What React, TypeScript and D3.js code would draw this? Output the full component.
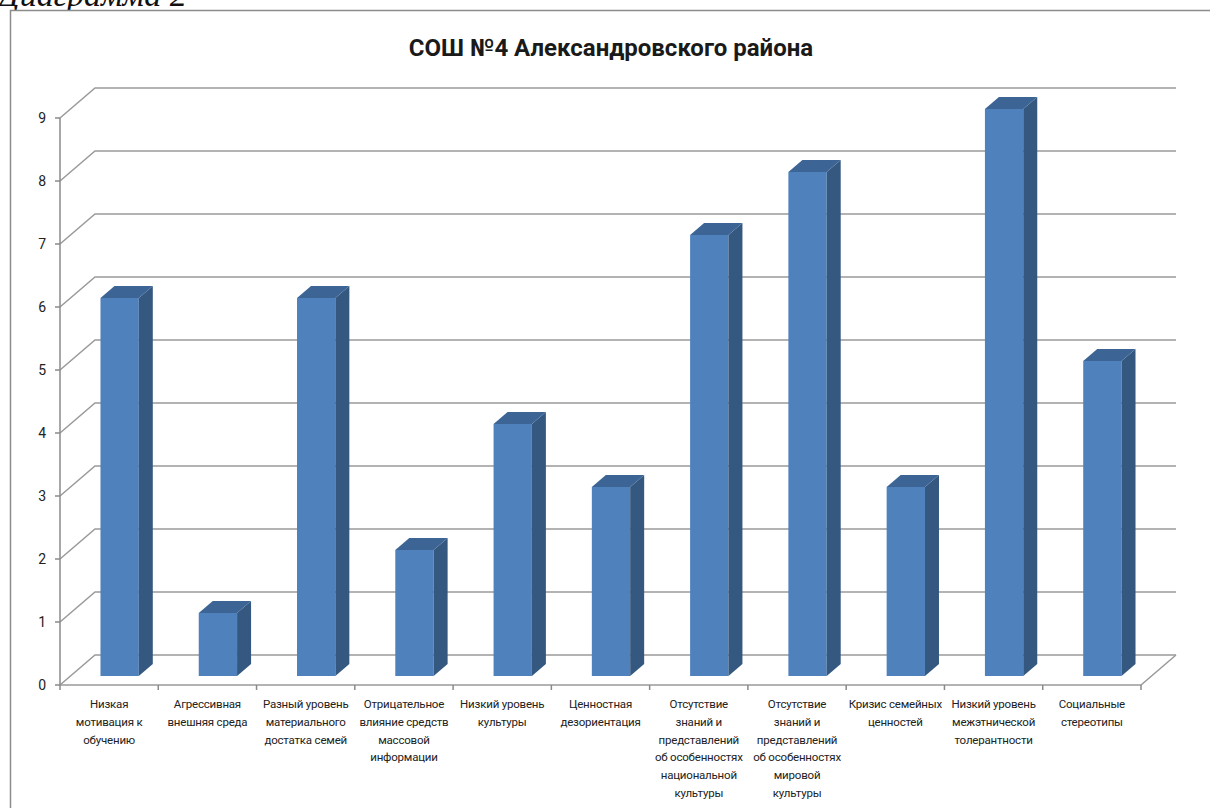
import { useEffect, useRef } from 'react';
import * as d3 from 'd3';

const categories = [
    ['Низкая', 'мотивация к', 'обучению'],
    ['Агрессивная', 'внешняя среда'],
    ['Разный уровень', 'материального', 'достатка семей'],
    ['Отрицательное', 'влияние средств', 'массовой', 'информации'],
    ['Низкий уровень', 'культуры'],
    ['Ценностная', 'дезориентация'],
    ['Отсутствие', 'знаний и', 'представлений', 'об особенностях', 'национальной', 'культуры'],
    ['Отсутствие', 'знаний и', 'представлений', 'об особенностях', 'мировой', 'культуры'],
    ['Кризис семейных', 'ценностей'],
    ['Низкий уровень', 'межэтнической', 'толерантности'],
    ['Социальные', 'стереотипы'],
];
const values = [6, 1, 6, 2, 4, 3, 7, 8, 3, 9, 5];
const yTicks = [0, 1, 2, 3, 4, 5, 6, 7, 8, 9];
const title = 'СОШ №4 Александровского района';
const caption = 'Диаграмма 2';

const W = 1210;
const H = 808;
const FONT = 'Roboto, "Noto Sans", sans-serif';

export default function App() {
    const svgRef = useRef<SVGSVGElement>(null);

    useEffect(() => {
        if (!svgRef.current) return;
        const svg = d3.select(svgRef.current);
        svg.selectAll('*').remove();

        // front plane of the 3D box
        const left = 60, right = 1141, bottom = 685, top = 118;
        const depth = { dx: 35, dy: -30 };
        const keys = categories.map((_, i) => String(i));

        const x = d3.scaleBand().domain(keys).range([left, right]).paddingInner(0.61).paddingOuter(0.305);
        const step = x.step();
        const y = d3.scaleLinear().domain([0, 9]).range([bottom, top]);

        // caption above the frame (cut by page top, as in the scan)
        svg.append('text')
            .attr('x', -2).attr('y', 6)
            .style('font-family', '"Liberation Serif", "DejaVu Serif", serif')
            .style('font-style', 'italic')
            .style('font-size', '34px')
            .attr('fill', '#111')
            .text(caption);

        // chart frame
        svg.append('rect')
            .attr('x', 10.5).attr('y', 10.5)
            .attr('width', W + 20).attr('height', H + 20)
            .attr('fill', '#fff')
            .attr('stroke', '#8c8c8c')
            .attr('stroke-width', 1.5);

        svg.append('text')
            .attr('x', 611).attr('y', 56)
            .attr('text-anchor', 'middle')
            .style('font-family', FONT)
            .style('font-weight', 'bold')
            .style('font-size', '24px')
            .attr('fill', '#1a1a1a')
            .text(title);

        const grid = svg.append('g').attr('stroke', '#9a9a9a').attr('stroke-width', 1.5).attr('fill', 'none');

        // side wall diagonals + back wall gridlines
        yTicks.forEach(v => {
            const yy = y(v);
            grid.append('path')
                .attr('d', `M${left},${yy}L${left + depth.dx},${yy + depth.dy}L${right + depth.dx},${yy + depth.dy}`);
        });

        // floor
        grid.append('path')
            .attr('d', `M${left},${bottom}L${right},${bottom}L${right + depth.dx},${bottom + depth.dy}`);

        // axes
        const axis = svg.append('g').attr('stroke', '#8a8a8a').attr('stroke-width', 1.5);
        axis.append('line').attr('x1', left).attr('x2', left).attr('y1', bottom).attr('y2', top);
        yTicks.forEach(v => {
            axis.append('line').attr('x1', left - 5).attr('x2', left).attr('y1', y(v)).attr('y2', y(v));
        });
        d3.range(categories.length + 1).forEach(i => {
            const xx = left + i * step;
            axis.append('line').attr('x1', xx).attr('x2', xx).attr('y1', bottom).attr('y2', bottom + 5);
        });

        svg.append('g').selectAll('text')
            .data(yTicks)
            .enter()
            .append('text')
            .attr('x', left - 14)
            .attr('y', d => y(d) + 5)
            .attr('text-anchor', 'end')
            .style('font-family', FONT)
            .style('font-size', '14px')
            .attr('fill', '#222')
            .text(d => d);

        // bars: placed at 30%..70% of the depth
        const f0 = 0.3, f1 = 0.7;
        const ox = depth.dx * f0, oy = depth.dy * f0;
        const bx = depth.dx * (f1 - f0), by = depth.dy * (f1 - f0);
        const bw = x.bandwidth();

        const bars = svg.append('g').selectAll('g')
            .data(values)
            .enter()
            .append('g');

        bars.append('path') // front
            .attr('d', (d, i) => {
                const x0 = x(String(i))! + ox, y0 = bottom + oy, y1 = y(d) + oy;
                return `M${x0},${y0}L${x0},${y1}L${x0 + bw},${y1}L${x0 + bw},${y0}Z`;
            })
            .attr('fill', '#4f81bd');

        bars.append('path') // side
            .attr('d', (d, i) => {
                const x1 = x(String(i))! + ox + bw, y0 = bottom + oy, y1 = y(d) + oy;
                return `M${x1},${y0}L${x1},${y1}L${x1 + bx},${y1 + by}L${x1 + bx},${y0 + by}Z`;
            })
            .attr('fill', '#34587f');

        bars.append('path') // top
            .attr('d', (d, i) => {
                const x0 = x(String(i))! + ox, y1 = y(d) + oy;
                return `M${x0},${y1}L${x0 + bx},${y1 + by}L${x0 + bw + bx},${y1 + by}L${x0 + bw},${y1}Z`;
            })
            .attr('fill', '#3c6596');

        // category labels
        const labels = svg.append('g').selectAll('text')
            .data(categories)
            .enter()
            .append('text')
            .attr('text-anchor', 'middle')
            .style('font-family', FONT)
            .style('font-size', '11.5px')
            .style('letter-spacing', '-0.2px')
            .attr('fill', '#222')
            .attr('transform', (_, i) => `translate(${left + (i + 0.5) * step},${bottom + 23})`);

        labels.selectAll('tspan')
            .data(d => d)
            .enter()
            .append('tspan')
            .attr('x', 0)
            .attr('y', (_, j) => j * 17.8)
            .text(d => d);
    }, []);

    return (
        <svg
            ref={svgRef}
            width={W}
            height={H}
            style={{ position: 'absolute', left: 0, top: 0, background: '#fff' }}
        />
    );
}
